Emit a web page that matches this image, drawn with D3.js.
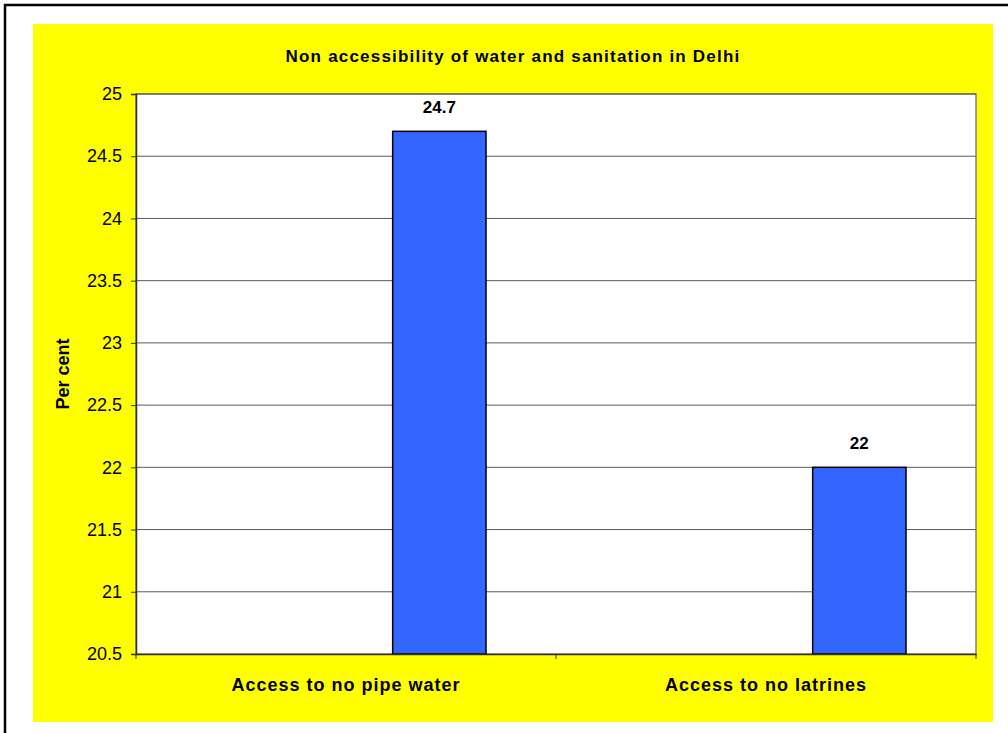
<!DOCTYPE html>
<html>
<head>
<meta charset="utf-8">
<script src="https://cdn.jsdelivr.net/npm/d3@7"></script>
<style>
  body { margin: 0; background: #fff; }
  text { font-family: Arial, "Liberation Sans", sans-serif; }
</style>
</head>
<body>
<div id="chart-area"></div>
<script>
const categories = ["Access to no pipe water", "Access to no latrines"];
const values = [24.7, 22];
const yTicks = [20.5, 21, 21.5, 22, 22.5, 23, 23.5, 24, 24.5, 25];
const chartTitle = "Non accessibility of water and sanitation in Delhi";
const yTitle = "Per cent";

const width = 1008;
const height = 733;
const plot = { left: 136, top: 94, right: 976, bottom: 654 };

const svg = d3.select("#chart-area")
    .append("svg")
    .attr("width", width)
    .attr("height", height);

// outer frame
svg.append("rect")
    .attr("x", 5).attr("y", 5)
    .attr("width", width + 10).attr("height", height + 10)
    .attr("fill", "#fff")
    .attr("stroke", "#000")
    .attr("stroke-width", 2.5);

// yellow chart area
svg.append("rect")
    .attr("x", 33).attr("y", 24)
    .attr("width", 960).attr("height", 698)
    .attr("fill", "#ffff00");

const x = d3.scaleBand()
    .domain(categories)
    .range([plot.left, plot.right])
    .paddingInner(0)
    .paddingOuter(0);

// three slots per category (excel clustered, gap 150%), bar sits in the last one
const slot = d3.scaleBand()
    .domain([0, 1, 2])
    .range([0, x.bandwidth()])
    .paddingInner(0)
    .paddingOuter(0.75);

const y = d3.scaleLinear()
    .domain([20.5, 25])
    .range([plot.bottom, plot.top]);

// plot background
svg.append("rect")
    .attr("x", plot.left).attr("y", plot.top)
    .attr("width", plot.right - plot.left)
    .attr("height", plot.bottom - plot.top)
    .attr("fill", "#fff")
    .attr("stroke", "#808080")
    .attr("stroke-width", 1.5);

// gridlines
svg.append("g")
    .selectAll("line")
    .data(yTicks.slice(1))
    .enter()
    .append("line")
    .attr("x1", plot.left).attr("x2", plot.right)
    .attr("y1", d => y(d)).attr("y2", d => y(d))
    .attr("stroke", "#5a5a5a")
    .attr("stroke-width", 1);

// bars
svg.append("g")
    .selectAll("rect")
    .data(values)
    .enter()
    .append("rect")
    .attr("x", (d, i) => x(categories[i]) + slot(2))
    .attr("y", d => y(d))
    .attr("width", slot.bandwidth())
    .attr("height", d => y(20.5) - y(d))
    .attr("fill", "#3366ff")
    .attr("stroke", "#000")
    .attr("stroke-width", 1.5);

// value labels
svg.append("g")
    .selectAll("text")
    .data(values)
    .enter()
    .append("text")
    .attr("x", (d, i) => x(categories[i]) + slot(2) + slot.bandwidth() / 2)
    .attr("y", d => y(d) - 18)
    .attr("text-anchor", "middle")
    .style("font-size", "17px")
    .style("font-weight", "bold")
    .text(d => d);

// y axis
const yAxis = svg.append("g")
    .attr("transform", "translate(" + plot.left + ",0)")
    .call(d3.axisLeft(y).tickValues(yTicks).tickSize(5).tickPadding(9).tickFormat(d => d));
yAxis.select(".domain").attr("stroke", "#333").attr("stroke-width", 1.5);
yAxis.selectAll(".tick line").attr("stroke", "#333");
yAxis.selectAll(".tick text")
    .attr("fill", "#000")
    .style("font-size", "18px")
    .style("font-family", "Arial, 'Liberation Sans', sans-serif");

// x axis
const xAxis = svg.append("g")
    .attr("transform", "translate(0," + plot.bottom + ")")
    .call(d3.axisBottom(x).tickSize(0).tickPadding(24));
xAxis.select(".domain").attr("stroke", "#333").attr("stroke-width", 1.5);
xAxis.selectAll(".tick text")
    .attr("fill", "#000")
    .style("font-size", "18px")
    .style("font-weight", "bold")
    .style("letter-spacing", "1px")
    .style("font-family", "Arial, 'Liberation Sans', sans-serif");

// category separators on the x axis
svg.append("g")
    .selectAll("line")
    .data([plot.left, x(categories[1]), plot.right])
    .enter()
    .append("line")
    .attr("x1", d => d).attr("x2", d => d)
    .attr("y1", plot.bottom).attr("y2", plot.bottom + 5)
    .attr("stroke", "#333");

// title
svg.append("text")
    .attr("x", 513)
    .attr("y", 62)
    .attr("text-anchor", "middle")
    .style("font-size", "17px")
    .style("font-weight", "bold")
    .style("letter-spacing", "1.2px")
    .text(chartTitle);

// y axis title
svg.append("text")
    .attr("transform", "translate(69," + ((plot.top + plot.bottom) / 2) + ") rotate(-90)")
    .attr("text-anchor", "middle")
    .style("font-size", "18px")
    .style("font-weight", "bold")
    .text(yTitle);
</script>
</body>
</html>
